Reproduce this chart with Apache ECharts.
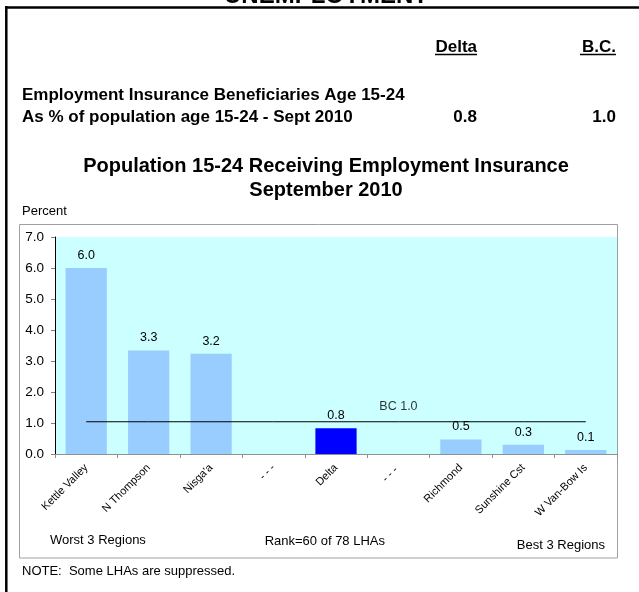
<!DOCTYPE html>
<html>
<head>
<meta charset="utf-8">
<script src="https://cdn.jsdelivr.net/npm/echarts@6/dist/echarts.min.js"></script>
<style>html,body{margin:0;padding:0;background:#fff;}#c{width:639px;height:592px;}</style>
</head>
<body>
<div id="c"></div>
<script>
const categories = ['Kettle Valley', 'N Thompson', "Nisga'a", '- - -', 'Delta', '- - - ', 'Richmond', 'Sunshine Cst', 'W Van-Bow Is'];
const values = [6.0, 3.34, 3.23, null, 0.83, null, 0.47, 0.30, 0.13];
const highlightCategory = 'Delta';
const bcValue = 1.04;
const bcLabel = 'BC 1.0';
const bcLabelCategory = '- - - ';
const yTicks = [0, 1, 2, 3, 4, 5, 6, 7];
const deltaRate = '0.8';
const bcRate = '1.0';

const FONT = '"Liberation Sans", Arial, sans-serif';
const chart = echarts.init(document.getElementById('c'), null, {renderer: 'canvas'});

const barData = values.map((v, i) => ({
  value: v,
  itemStyle: {color: categories[i] === highlightCategory ? '#0000ff' : '#99ccff'}
}));
const lineData = categories.map(() => bcValue);

chart.setOption({
  animation: false,
  backgroundColor: '#fff',
  grid: {left: 55, top: 237, right: 22, bottom: 138, show: true, backgroundColor: '#ccffff', borderWidth: 0},
  xAxis: {
    type: 'category',
    data: categories,
    boundaryGap: true,
    axisLine: {lineStyle: {color: '#909090', width: 1}},
    axisTick: {show: true, alignWithLabel: false, length: 4, lineStyle: {color: '#909090'}},
    axisLabel: {interval: 0, rotate: 45, fontSize: 11, color: '#000', fontFamily: FONT, margin: 12}
  },
  yAxis: {
    type: 'value',
    min: yTicks[0],
    max: yTicks[yTicks.length - 1],
    interval: 1,
    splitLine: {show: false},
    axisLine: {show: true, lineStyle: {color: '#000', width: 1}},
    axisTick: {show: true, length: 4, lineStyle: {color: '#808080'}},
    axisLabel: {formatter: (v) => v.toFixed(1), fontSize: 13.5, color: '#000', fontFamily: FONT, margin: 11}
  },
  series: [
    {
      type: 'bar',
      data: barData,
      barCategoryGap: '34%',
      label: {show: true, position: 'top', distance: 6, fontSize: 12.5, color: '#000', fontFamily: FONT,
        formatter: (p) => p.value == null ? '' : p.value.toFixed(1)},
      z: 2
    },
    {
      type: 'line',
      data: lineData,
      symbol: 'none',
      lineStyle: {color: '#000', width: 1},
      z: 3
    },
    {
      type: 'scatter',
      data: [[bcLabelCategory, bcValue]],
      symbolSize: 0,
      label: {show: true, formatter: bcLabel, position: 'top', distance: 9, color: '#000', fontSize: 12.5, fontFamily: FONT},
      z: 4
    }
  ],
  graphic: [
    {type: 'text', x: 326, y: -4, style: {text: 'UNEMPLOYMENT', font: 'bold 24px ' + FONT, fill: '#000', textAlign: 'center', textVerticalAlign: 'middle'}},
    {type: 'line', shape: {x1: 5, y1: 7.5, x2: 639, y2: 7.5}, style: {stroke: '#000', lineWidth: 2.5}},
    {type: 'line', shape: {x1: 6.3, y1: 6, x2: 6.3, y2: 592}, style: {stroke: '#000', lineWidth: 2.5}},
    {type: 'text', x: 477, y: 47, style: {text: 'Delta', font: 'bold 17px ' + FONT, fill: '#000', textAlign: 'right', textVerticalAlign: 'middle'}},
    {type: 'line', shape: {x1: 435, y1: 54.5, x2: 477, y2: 54.5}, style: {stroke: '#000', lineWidth: 1.5}},
    {type: 'text', x: 616, y: 47, style: {text: 'B.C.', font: 'bold 17px ' + FONT, fill: '#000', textAlign: 'right', textVerticalAlign: 'middle'}},
    {type: 'line', shape: {x1: 580, y1: 54.5, x2: 616, y2: 54.5}, style: {stroke: '#000', lineWidth: 1.5}},
    {type: 'text', x: 22, y: 95, style: {text: 'Employment Insurance Beneficiaries Age 15-24', font: 'bold 17px ' + FONT, fill: '#000', textVerticalAlign: 'middle'}},
    {type: 'text', x: 22, y: 117, style: {text: 'As % of population age 15-24 - Sept 2010', font: 'bold 17px ' + FONT, fill: '#000', textVerticalAlign: 'middle'}},
    {type: 'text', x: 477, y: 117, style: {text: deltaRate, font: 'bold 17px ' + FONT, fill: '#000', textAlign: 'right', textVerticalAlign: 'middle'}},
    {type: 'text', x: 616, y: 117, style: {text: bcRate, font: 'bold 17px ' + FONT, fill: '#000', textAlign: 'right', textVerticalAlign: 'middle'}},
    {type: 'text', x: 326, y: 166, style: {text: 'Population 15-24 Receiving Employment Insurance', font: 'bold 20px ' + FONT, fill: '#000', textAlign: 'center', textVerticalAlign: 'middle'}},
    {type: 'text', x: 326, y: 190, style: {text: 'September 2010', font: 'bold 20px ' + FONT, fill: '#000', textAlign: 'center', textVerticalAlign: 'middle'}},
    {type: 'text', x: 22, y: 211, style: {text: 'Percent', font: '13px ' + FONT, fill: '#000', textVerticalAlign: 'middle'}},
    {type: 'rect', shape: {x: 19.5, y: 224.5, width: 598, height: 333.5}, style: {fill: null, stroke: '#a0a0a0', lineWidth: 1}, z: -1},
    {type: 'text', x: 50, y: 540, style: {text: 'Worst 3 Regions', font: '13px ' + FONT, fill: '#000', textVerticalAlign: 'middle'}},
    {type: 'text', x: 385, y: 541, style: {text: 'Rank=60 of 78 LHAs', font: '13px ' + FONT, fill: '#000', textAlign: 'right', textVerticalAlign: 'middle'}},
    {type: 'text', x: 605, y: 545, style: {text: 'Best 3 Regions', font: '13px ' + FONT, fill: '#000', textAlign: 'right', textVerticalAlign: 'middle'}},
    {type: 'text', x: 22, y: 571, style: {text: 'NOTE:  Some LHAs are suppressed.', font: '13px ' + FONT, fill: '#000', textVerticalAlign: 'middle'}}
  ]
});
</script>
</body>
</html>
